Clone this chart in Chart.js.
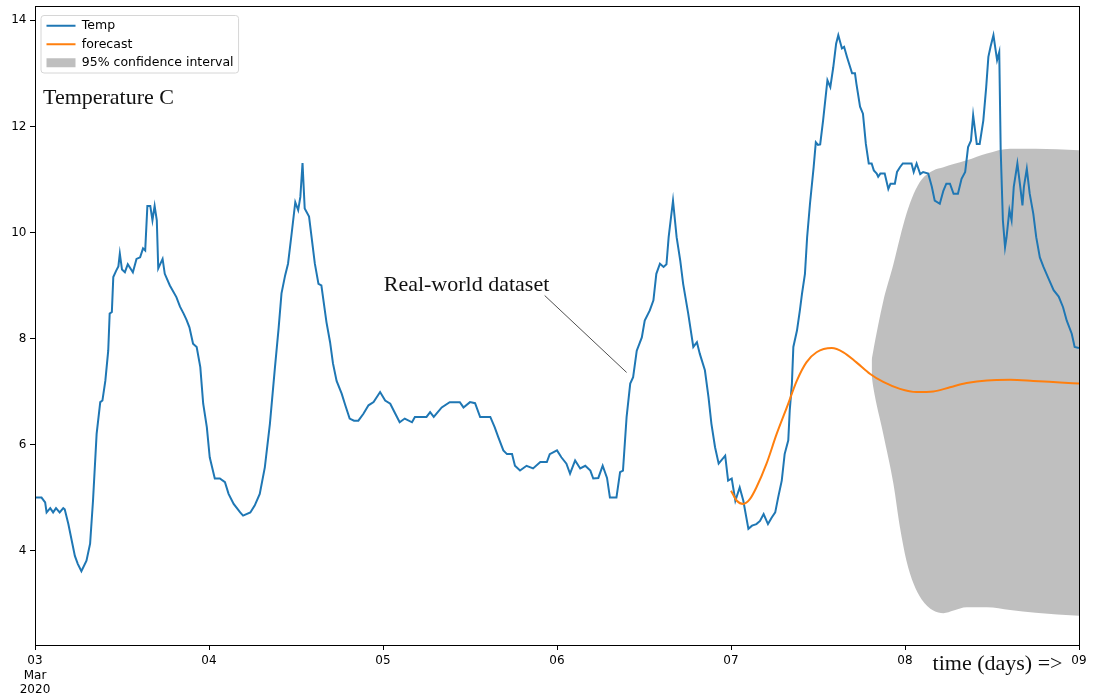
<!DOCTYPE html>
<html>
<head>
<meta charset="utf-8">
<title>Temperature forecast</title>
<script src="https://cdn.jsdelivr.net/npm/chart.js@4.4.1/dist/chart.umd.min.js"></script>
<style>
  html, body { margin: 0; padding: 0; background: #ffffff; }
  #wrap { width: 1093px; height: 696px; }
</style>
</head>
<body>
<div id="wrap"><canvas id="chart" width="1093" height="696"></canvas></div>
<script>
// Time is measured in hours since 2020-03-03 00:00.
const tempHours = [
  0, 0.9, 1.4, 1.6, 2.1, 2.5, 2.9, 3.4, 3.9, 4.1,
  4.6, 5.5, 5.9, 6.4, 7.1, 7.6, 8.0, 8.5, 9.0, 9.3,
  9.7, 10.1, 10.3, 10.6, 10.8, 11.2, 11.5, 11.7, 12.0, 12.4,
  12.8, 13.5, 14.0, 14.5, 14.9, 15.2, 15.5, 15.9, 16.2, 16.5,
  16.8, 17.0, 17.6, 17.9, 18.6, 19.5, 20.0, 20.5, 20.9, 21.3,
  21.8, 22.3, 22.8, 23.2, 23.7, 24.1, 24.8, 25.5, 26.2, 26.7,
  27.4, 28.3, 28.7, 29.7, 30.3, 31.0, 31.7, 32.4, 33.1, 33.6,
  34.0, 34.5, 34.9, 35.4, 35.9, 36.3, 36.6, 36.9, 37.2, 37.8,
  38.6, 39.1, 39.5, 40.2, 40.7, 41.1, 41.6, 42.3, 42.8, 43.4,
  44.0, 44.6, 45.3, 46.0, 46.7, 47.6, 48.3, 49.0, 49.7, 50.3,
  51.0, 52.0, 52.4, 54.0, 54.5, 55.0, 56.1, 57.2, 58.6, 59.1,
  60.0, 60.7, 61.4, 62.8, 63.4, 63.9, 64.6, 65.1, 65.8, 66.2,
  66.9, 67.8, 68.7, 69.7, 70.6, 71.0, 72.0, 72.6, 73.3, 73.8,
  74.5, 75.2, 75.9, 76.6, 77.0, 77.7, 78.3, 78.9, 79.3, 80.2,
  80.7, 81.1, 81.6, 82.1, 82.5, 83.0, 83.7, 84.1, 84.8, 85.3,
  85.7, 86.2, 86.7, 87.1, 87.4, 88.0, 88.5, 89.0, 89.4, 90.1,
  90.8, 91.3, 91.7, 92.4, 92.9, 93.3, 93.8, 94.3, 95.2, 95.6,
  96.1, 96.6, 97.2, 97.7, 98.4, 98.9, 99.5, 100.0, 100.5, 101.1,
  101.6, 102.1, 102.5, 103.0, 103.4, 103.9, 104.1, 104.4, 104.6, 105.1,
  105.5, 105.8, 106.2, 106.5, 106.9, 107.4, 107.7, 108.0, 108.3, 108.7,
  109.3, 109.7, 110.1, 110.5, 110.8, 111.3, 111.6, 112.0, 112.7, 113.1,
  113.3, 113.8, 114.2, 114.6, 115.0, 115.4, 115.7, 116.1, 116.3, 116.6,
  117.2, 117.7, 118.0, 118.6, 118.9, 119.3, 119.7, 120.9, 121.2, 121.6,
  122.1, 122.5, 123.2, 123.7, 124.1, 124.8, 125.3, 125.7, 126.2, 126.7,
  127.3, 127.8, 128.3, 128.7, 129.1, 129.4, 129.9, 130.3, 130.8, 131.2,
  131.5, 131.8, 132.2, 132.7, 133.0, 133.2, 133.5, 133.8, 134.0, 134.4,
  134.7, 135.0, 135.5, 135.9, 136.2, 136.4, 136.8, 137.2, 137.7, 138.1,
  138.6, 139.1, 139.8, 140.5, 141.2, 141.8, 142.3, 143.0, 143.4, 144.0
];
const tempValues = [
  5.0, 5.0, 4.91, 4.72, 4.8, 4.72, 4.8, 4.72, 4.8, 4.78,
  4.5, 3.9, 3.75, 3.61, 3.81, 4.13, 4.94, 6.2, 6.8, 6.83,
  7.2, 7.77, 8.47, 8.5, 9.16, 9.28, 9.36, 9.6, 9.3, 9.25,
  9.4, 9.25, 9.5, 9.53, 9.7, 9.66, 10.5, 10.5, 10.23, 10.5,
  10.23, 9.32, 9.5, 9.22, 9.0, 8.78, 8.6, 8.47, 8.35, 8.21,
  7.9, 7.84, 7.46, 6.77, 6.33, 5.76, 5.36, 5.36, 5.29, 5.07,
  4.88, 4.72, 4.66, 4.72, 4.85, 5.07, 5.57, 6.39, 7.46, 8.19,
  8.85, 9.19, 9.41, 9.98, 10.57, 10.42, 10.67, 11.31, 10.45, 10.3,
  9.41, 9.03, 9.0, 8.31, 7.93, 7.53, 7.2, 6.96, 6.74, 6.49,
  6.45, 6.45, 6.58, 6.74, 6.8, 6.99, 6.83, 6.77, 6.58, 6.42,
  6.49, 6.42, 6.52, 6.52, 6.61, 6.52, 6.7, 6.8, 6.8, 6.7,
  6.8, 6.78, 6.52, 6.52, 6.33, 6.14, 5.89, 5.82, 5.82, 5.6,
  5.51, 5.6, 5.55, 5.67, 5.67, 5.82, 5.89, 5.76, 5.64, 5.45,
  5.7, 5.55, 5.6, 5.51, 5.36, 5.37, 5.6, 5.37, 5.0, 5.0,
  5.48, 5.51, 6.52, 7.15, 7.27, 7.77, 8.02, 8.34, 8.53, 8.72,
  9.22, 9.41, 9.35, 9.4, 9.91, 10.6, 9.91, 9.47, 9.03, 8.47,
  7.84, 7.93, 7.71, 7.4, 6.89, 6.39, 5.95, 5.64, 5.79, 5.32,
  5.36, 4.94, 5.19, 4.94, 4.41, 4.47, 4.5, 4.56, 4.69, 4.5,
  4.62, 4.72, 5.0, 5.32, 5.82, 6.08, 6.64, 7.15, 7.84, 8.15,
  8.53, 8.85, 9.22, 9.91, 10.55, 11.23, 11.7, 11.65, 11.66, 12.11,
  12.87, 12.74, 13.11, 13.56, 13.72, 13.47, 13.5, 13.31, 13.0, 13.0,
  12.8, 12.37, 12.24, 11.67, 11.3, 11.3, 11.17, 11.11, 11.05, 11.11,
  11.11, 10.82, 10.92, 10.92, 11.14, 11.23, 11.3, 11.3, 11.14, 11.3,
  11.1, 11.14, 11.11, 10.86, 10.6, 10.54, 10.79, 10.92, 10.92, 10.73,
  10.73, 11.01, 11.14, 11.61, 11.73, 12.21, 11.67, 11.67, 12.11, 12.74,
  13.31, 13.5, 13.72, 13.25, 13.4, 11.55, 10.23, 9.72, 9.9, 10.42,
  10.23, 10.86, 11.3, 10.86, 10.51, 10.86, 11.2, 10.73, 10.35, 9.91,
  9.53, 9.35, 9.13, 8.91, 8.79, 8.59, 8.34, 8.09, 7.84, 7.82
];

const forecastHours = [
  96.0, 96.8, 97.7, 98.6, 99.5, 100.9, 102.3, 103.7, 105.1, 106.4,
  107.8, 109.9, 111.5, 113.3, 115.2, 117.0, 119.3, 121.6, 123.9, 126.2,
  128.5, 131.3, 134.5, 137.7, 141.4, 144.0
];
const forecastValues = [
  5.13, 4.94, 4.88, 4.97, 5.19, 5.64, 6.2, 6.7, 7.21, 7.55,
  7.74, 7.82, 7.74, 7.55, 7.33, 7.18, 7.05, 6.99, 7.0, 7.08,
  7.16, 7.21, 7.22, 7.2, 7.17, 7.15
];

const ciHours = [115.4, 115.6, 117.0, 118.4, 119.3, 120.2, 121.2, 122.3, 123.9, 125.3, 126.7, 128.5, 131.3, 134.5, 138.0, 144.0];
const ciUpper = [7.6, 7.75, 8.7, 9.4, 9.9, 10.35, 10.73, 11.0, 11.17, 11.23, 11.29, 11.36, 11.49, 11.58, 11.58, 11.55];
const ciLower = [7.3, 7.1, 6.2, 5.26, 4.44, 3.81, 3.37, 3.08, 2.87, 2.82, 2.87, 2.93, 2.93, 2.88, 2.83, 2.77];

const xTickHours = [0, 24, 48, 72, 96, 120, 144];
const xTickLabels = [['03', 'Mar', '2020'], '04', '05', '06', '07', '08', '09'];
const yTicks = [4, 6, 8, 10, 12, 14];

const points = (xs, ys) => xs.map((x, i) => ({ x: x, y: ys[i] }));

// Closed matplotlib-style frame around the plotting area.
const axesFrame = {
  id: 'axesFrame',
  afterDraw(chart) {
    const { left, top, right, bottom } = chart.chartArea;
    const ctx = chart.ctx;
    ctx.save();
    ctx.strokeStyle = '#000';
    ctx.lineWidth = 1;
    ctx.strokeRect(Math.round(left) + 0.5, Math.round(top) + 0.5,
      Math.round(right) - Math.round(left), Math.round(bottom) - Math.round(top));
    ctx.restore();
  }
};

// Legend sits inside the plot, inset from the corner, on a rounded light frame.
const legendInset = {
  id: 'legendInset',
  afterLayout(chart, args, opts) {
    const lg = chart.legend, ca = chart.chartArea;
    if (!lg) return;
    lg.left = ca.left + opts.dx;
    lg.top = ca.top + opts.dy;
    lg.right = ca.right;
    lg.bottom = ca.bottom;
  },
  beforeDraw(chart) {
    const lg = chart.legend;
    const boxes = lg && lg.legendHitBoxes;
    if (!boxes || !boxes.length) return;
    const x0 = Math.min(...boxes.map(b => b.left)) - 5.5;
    const y0 = boxes[0].top - 4;
    const x1 = Math.max(...boxes.map(b => b.left + b.width)) + 5;
    const last = boxes[boxes.length - 1];
    const y1 = last.top + last.height + 4;
    const r = 3;
    const ctx = chart.ctx;
    ctx.save();
    ctx.beginPath();
    ctx.moveTo(x0 + r, y0);
    ctx.lineTo(x1 - r, y0);
    ctx.arcTo(x1, y0, x1, y0 + r, r);
    ctx.lineTo(x1, y1 - r);
    ctx.arcTo(x1, y1, x1 - r, y1, r);
    ctx.lineTo(x0 + r, y1);
    ctx.arcTo(x0, y1, x0, y1 - r, r);
    ctx.lineTo(x0, y0 + r);
    ctx.arcTo(x0, y0, x0 + r, y0, r);
    ctx.closePath();
    ctx.fillStyle = 'rgba(255,255,255,0.8)';
    ctx.fill();
    ctx.strokeStyle = '#d6d6d6';
    ctx.lineWidth = 1;
    ctx.stroke();
    ctx.restore();
  }
};

// Free text labels and the pointer line, placed in data coordinates.
const notes = {
  id: 'notes',
  afterDraw(chart, args, opts) {
    const xs = chart.scales.x, ys = chart.scales.y;
    const ctx = chart.ctx;
    ctx.save();
    ctx.fillStyle = '#111';
    ctx.font = opts.font;
    ctx.textBaseline = 'alphabetic';
    ctx.textAlign = 'left';
    opts.labels.forEach(l => {
      ctx.fillText(l.text, xs.getPixelForValue(l.x), ys.getPixelForValue(l.y));
    });
    opts.lines.forEach(l => {
      ctx.beginPath();
      ctx.moveTo(xs.getPixelForValue(l.x0), ys.getPixelForValue(l.y0));
      ctx.lineTo(xs.getPixelForValue(l.x1), ys.getPixelForValue(l.y1));
      ctx.strokeStyle = '#222';
      ctx.lineWidth = 0.8;
      ctx.stroke();
    });
    ctx.restore();
  }
};

Chart.defaults.font.family = "'DejaVu Sans', sans-serif";
Chart.defaults.font.size = 12;
Chart.defaults.color = '#000';

new Chart(document.getElementById('chart'), {
  type: 'line',
  data: {
    datasets: [
      {
        label: 'Temp',
        data: points(tempHours, tempValues),
        borderColor: '#1f77b4',
        backgroundColor: '#1f77b4',
        borderWidth: 2,
        pointStyle: 'line',
        tension: 0,
        fill: false,
        order: 1
      },
      {
        label: 'forecast',
        data: points(forecastHours, forecastValues),
        borderColor: '#ff7f0e',
        backgroundColor: '#ff7f0e',
        borderWidth: 2,
        pointStyle: 'line',
        cubicInterpolationMode: 'monotone',
        fill: false,
        order: 0
      },
      {
        label: '95% confidence interval',
        data: points(ciHours, ciUpper),
        borderColor: 'rgba(0,0,0,0)',
        backgroundColor: 'rgba(0,0,0,0.25)',
        borderWidth: 0,
        pointStyle: 'rect',
        cubicInterpolationMode: 'monotone',
        fill: '+1',
        order: 2
      },
      {
        label: '',
        data: points(ciHours, ciLower),
        borderColor: 'rgba(0,0,0,0)',
        backgroundColor: 'rgba(0,0,0,0)',
        borderWidth: 0,
        cubicInterpolationMode: 'monotone',
        fill: false,
        order: 3
      }
    ]
  },
  options: {
    responsive: false,
    animation: false,
    devicePixelRatio: 1,
    layout: { padding: { left: 0, top: 6, right: 14, bottom: 0 } },
    elements: { point: { radius: 0, hoverRadius: 0 } },
    events: [],
    scales: {
      x: {
        type: 'linear',
        min: 0,
        max: 144,
        afterBuildTicks: s => { s.ticks = xTickHours.map(v => ({ value: v })); },
        afterFit: s => { s.height = 51; s.paddingLeft = 0; s.paddingRight = 0; },
        ticks: {
          autoSkip: false,
          maxRotation: 0,
          padding: 4,
          color: '#000',
          font: { size: 12, lineHeight: 1.2 },
          callback: (v, i) => xTickLabels[i]
        },
        grid: { drawOnChartArea: false, drawTicks: true, tickLength: 5, color: '#000', tickWidth: 1 },
        border: { display: true, color: '#000', width: 1 }
      },
      y: {
        min: 2.22,
        max: 14.27,
        afterBuildTicks: s => { s.ticks = yTicks.map(v => ({ value: v })); },
        afterFit: s => { s.width = 35; s.paddingTop = 0; s.paddingBottom = 0; },
        ticks: { padding: 3.5, color: '#000', font: { size: 12 } },
        grid: { drawOnChartArea: false, drawTicks: true, tickLength: 5, color: '#000', tickWidth: 1 },
        border: { display: true, color: '#000', width: 1 }
      }
    },
    plugins: {
      filler: { propagate: false, drawTime: 'beforeDatasetsDraw' },
      tooltip: { enabled: false },
      legend: {
        position: 'chartArea',
        align: 'start',
        labels: {
          usePointStyle: true,
          pointStyleWidth: 29,
          boxHeight: 9,
          padding: 6,
          color: '#000',
          font: { size: 12.5 },
          filter: item => item.text !== '',
          sort: (a, b) => a.datasetIndex - b.datasetIndex
        }
      },
      legendInset: { dx: 5.5, dy: 7.5 },
      notes: {
        font: "22px 'Liberation Serif', serif",
        labels: [
          { text: 'Temperature C', x: 1.1, y: 12.42 },
          { text: 'Real-world dataset', x: 48.1, y: 8.89 },
          { text: 'time (days) =>', x: 123.8, y: 1.755 }
        ],
        lines: [
          { x0: 70.3, y0: 8.81, x1: 81.6, y1: 7.36 }
        ]
      }
    }
  },
  plugins: [axesFrame, legendInset, notes]
});
</script>
</body>
</html>
